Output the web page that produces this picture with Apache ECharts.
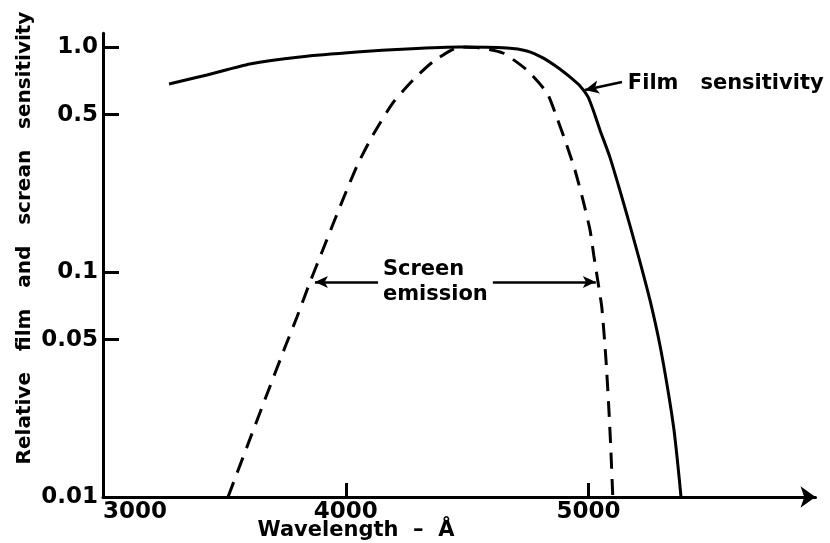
<!DOCTYPE html>
<html>
<head>
<meta charset="utf-8">
<script src="https://cdn.jsdelivr.net/npm/echarts@6/dist/echarts.min.js"></script>
<style>
html,body{margin:0;padding:0;background:#ffffff;}
#chart{width:830px;height:543px;}
</style>
</head>
<body>
<div id="chart"></div>
<script>
// ---- Data ----
const filmWavelength = [3272,3428,3605,3811,4046,4252,4470,4664,4746,4812,4882,4923,4965,4998,5022,5047,5088,5129,5170,5212,5253,5294,5327,5352,5368,5381];
const filmSensitivity = [0.685,0.751,0.840,0.903,0.950,0.980,1.0,0.990,0.960,0.894,0.798,0.736,0.671,0.600,0.514,0.428,0.324,0.231,0.162,0.111,0.0751,0.0474,0.0299,0.0199,0.0139,0.01];

const screenWavelength = [3515,3593,3671,3750,3799,3853,3902,3951,4001,4050,4112,4194,4277,4359,4470,4553,4647,4746,4829,4870,4903,4944,4977,5006,5022,5039,5055,5072,5084,5092,5100];
const screenEmission = [0.01,0.0167,0.0278,0.0464,0.0631,0.0903,0.1227,0.1668,0.2268,0.302,0.406,0.564,0.713,0.858,1.0,0.990,0.940,0.790,0.625,0.484,0.386,0.284,0.209,0.154,0.118,0.0903,0.0692,0.0406,0.0244,0.0162,0.01];

const xTickLabels = [3000,4000,5000];
const xTickMarks = [4000,5000];
const yTickLabels = [0.01,0.05,0.1,0.5,1.0];
const yTickMarks = [0.05,0.1,0.5,1.0];

// annotation anchors (data coordinates)
const emissionArrowLevel = 0.0903;
const emissionArrowLeft = [4133, 3873];   // tail, tip
const emissionArrowRight = [4606, 5030];  // tail, tip
const emissionLabelAt = [4153, 0.0903];
const filmArrowTail = [5138, 0.699];
const filmArrowTip = [4985, 0.644];
const filmLabelAt = [5162, 0.69];

const FONT = '"DejaVu Sans", "Liberation Sans", sans-serif';

function zip(xs, ys){ return xs.map((x,i)=>[x, ys[i]]); }

const chart = echarts.init(document.getElementById('chart'), null, {renderer:'canvas'});

const option = {
  animation: false,
  backgroundColor: '#ffffff',
  grid: {left: 103, right: 14.5, top: 33.3, bottom: 46, containLabel: false, outerBoundsMode: 'none'},
  xAxis: {
    type: 'value', min: 3000, max: 5935, interval: 1000,
    axisLine: {onZero: false, lineStyle: {color: '#000', width: 3}, symbol: ['none','arrow'], symbolSize: [16,15]},
    axisTick: {show: true, inside: true, length: 14, lineStyle: {color: '#000', width: 3}, customValues: xTickMarks},
    axisLabel: {color: '#000', fontSize: 23, fontWeight: 'bold', fontFamily: FONT, margin: 4,
      customValues: xTickLabels, alignMinLabel: 'left',
      formatter: function(v){ return String(Math.round(v)); }},
    splitLine: {show: false}
  },
  yAxis: {
    type: 'log', logBase: 10, min: 0.01, max: 1.15,
    axisLine: {show: true, onZero: false, lineStyle: {color: '#000', width: 3}},
    axisTick: {show: true, inside: true, length: 16, lineStyle: {color: '#000', width: 3}, customValues: yTickMarks},
    axisLabel: {color: '#000', fontSize: 23, fontWeight: 'bold', fontFamily: FONT, margin: 5, customValues: yTickLabels,
      formatter: function(v){ return Math.abs(v-1) < 1e-9 ? '1.0' : String(+(+v).toPrecision(3)); }},
    splitLine: {show: false}
  },
  series: [
    {
      name: 'Film sensitivity', type: 'line', data: zip(filmWavelength, filmSensitivity),
      showSymbol: false, smooth: 0.2, clip: false,
      lineStyle: {color: '#000', width: 3},
      markLine: {
        silent: true, symbol: ['none','arrow'], symbolSize: [10,14],
        label: {show: false},
        lineStyle: {color: '#000', width: 2.5, type: 'solid'},
        data: [[{coord: filmArrowTail}, {coord: filmArrowTip}]]
      },
      markPoint: {
        silent: true, symbol: 'circle', symbolSize: 0,
        data: [{coord: filmLabelAt, label: {show: true, position: 'right', distance: 0,
          formatter: 'Film   sensitivity', color: '#000', fontSize: 21, fontWeight: 'bold', fontFamily: FONT}}]
      }
    },
    {
      name: 'Screen emission', type: 'line', data: zip(screenWavelength, screenEmission),
      showSymbol: false, smooth: 0.2, clip: false,
      lineStyle: {color: '#000', width: 3, type: [16,10]},
      markLine: {
        silent: true, symbol: ['none','arrow'], symbolSize: [9,13],
        label: {show: false},
        lineStyle: {color: '#000', width: 2.5, type: 'solid'},
        data: [
          [{coord: [emissionArrowLeft[0], emissionArrowLevel]}, {coord: [emissionArrowLeft[1], emissionArrowLevel]}],
          [{coord: [emissionArrowRight[0], emissionArrowLevel]}, {coord: [emissionArrowRight[1], emissionArrowLevel]}]
        ]
      },
      markPoint: {
        silent: true, symbol: 'circle', symbolSize: 0,
        data: [{coord: emissionLabelAt, label: {show: true, position: 'right', distance: 0,
          formatter: 'Screen\nemission', lineHeight: 25, color: '#000', fontSize: 21, fontWeight: 'bold', fontFamily: FONT}}]
      }
    }
  ],
  graphic: [
    {type: 'text', x: 25, y: 238, rotation: Math.PI/2,
      style: {text: 'Relative   film   and   screan   sensitivity', font: 'bold 20px ' + FONT, fill: '#000', textAlign: 'center', textVerticalAlign: 'middle'}},
    {type: 'text', x: 356, y: 531,
      style: {text: 'Wavelength  –  Å', font: 'bold 21px ' + FONT, fill: '#000', textAlign: 'center', textVerticalAlign: 'middle'}}
  ]
};
chart.setOption(option);
</script>
</body>
</html>
